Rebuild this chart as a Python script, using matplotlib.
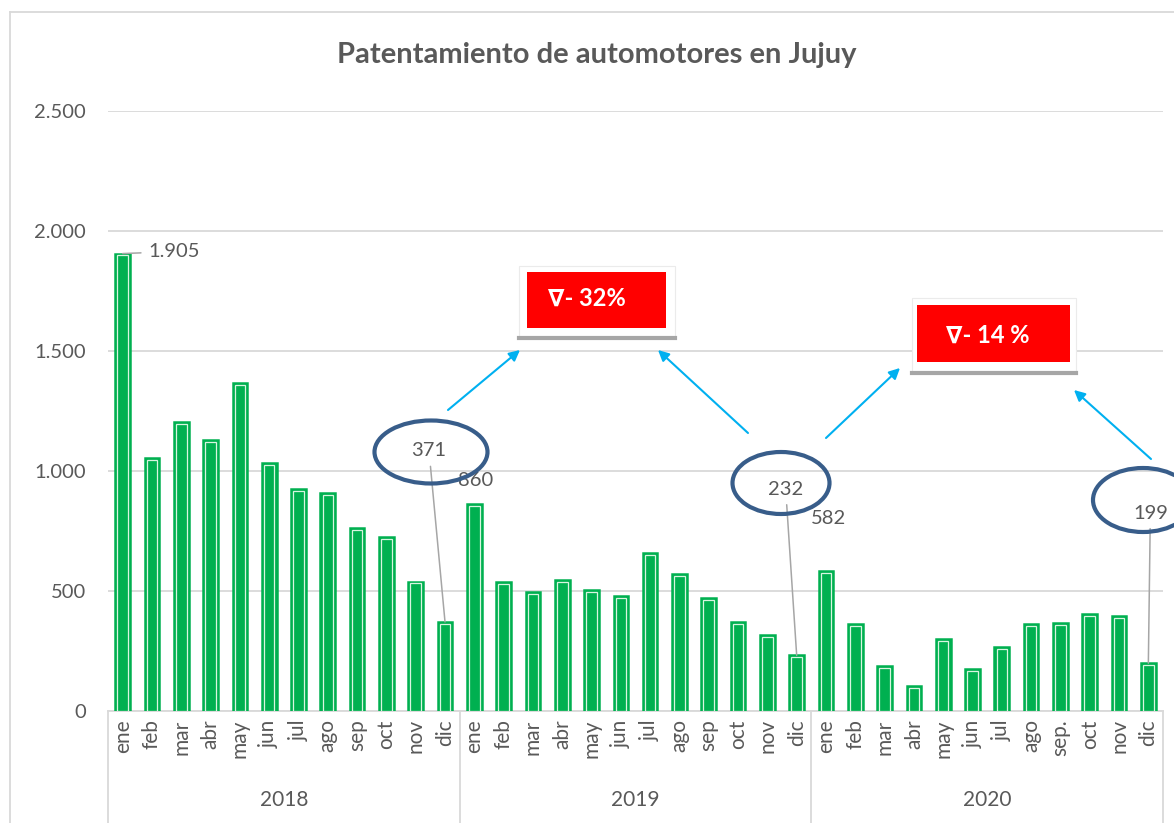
import matplotlib
matplotlib.use("Agg")
import matplotlib.pyplot as plt
from matplotlib.patches import Ellipse, Rectangle, FancyArrowPatch
from matplotlib.lines import Line2D
from matplotlib.transforms import Affine2D
from matplotlib.ticker import FuncFormatter

plt.rcParams["font.family"] = ["Lato", "DejaVu Sans"]

# data
years = ["2018", "2019", "2020"]
months = ["ene", "feb", "mar", "abr", "may", "jun", "jul", "ago", "sep", "oct", "nov", "dic"]
months_2020 = ["ene", "feb", "mar", "abr", "may", "jun", "jul", "ago", "sep.", "oct", "nov", "dic"]
v2018 = [1905, 1052, 1205, 1129, 1365, 1031, 923, 909, 761, 726, 539, 371]
v2019 = [860, 536, 497, 546, 504, 480, 656, 569, 469, 372, 316, 232]
v2020 = [582, 361, 189, 105, 298, 175, 268, 361, 365, 402, 397, 199]
labelled = [0, 11, 12, 23, 24, 35]
changes = ["\u2207- 32%", "\u2207- 14 %"]
title = "Patentamiento de automotores en Jujuy"

values = v2018 + v2019 + v2020
labels = months + months + months_2020
x = list(range(len(values)))

W, H = 1174, 823
GREEN = "#00B050"
TXT = "#595959"
GRID = "#D9D9D9"

fig = plt.figure(figsize=(W / 100, H / 100), dpi=100)
ax = fig.add_axes([108 / W, (H - 711) / H, (1163 - 108) / W, 600.3 / H])
# pixel coords of the reference image (y down)
px = Affine2D().scale(1 / W, -1 / H).translate(0, 1) + fig.transFigure


def fmt(v, _=None):
    return f"{int(v):,}".replace(",", ".")


# bars: green body, thin light inner outline
ax.bar(x, values, width=0.5, color=GREEN, edgecolor=GREEN, linewidth=1.8, zorder=3)
ax.bar(x, [v - 8 for v in values], width=0.36, color="none",
       edgecolor="#d8f5e0", linewidth=0.9, zorder=4)

ax.set_xlim(-0.5, len(values) - 0.5)
ax.set_ylim(0, 2500)
ax.set_yticks(range(0, 2501, 500))
ax.yaxis.set_major_formatter(FuncFormatter(fmt))
ax.yaxis.grid(True, color=GRID, linewidth=1.3, zorder=0)
ax.set_axisbelow(True)
for s in ["left", "right", "top"]:
    ax.spines[s].set_visible(False)
ax.spines["bottom"].set_color(GRID)
ax.spines["bottom"].set_linewidth(1.3)
ax.set_xticks(x)
ax.set_xticklabels(labels, rotation=90, va="top")
ax.tick_params(axis="x", length=0, pad=6, labelsize=15, colors=TXT)
ax.tick_params(axis="y", length=0, pad=16, labelsize=14.5, colors=TXT)

# year groups
for k in range(len(years) + 1):
    ax.plot([k * 12 - 0.5] * 2, [0, -0.2], transform=ax.get_xaxis_transform(),
            color=GRID, lw=1.3, clip_on=False)
for k, yr in enumerate(years):
    ax.text(k * 12 + 5.5, -0.148, yr, transform=ax.get_xaxis_transform(),
            ha="center", va="center", fontsize=15, color=TXT)

# data labels (offsets in pixels from bar top)
offsets = {0: (51, 2), 11: (-16, 171), 12: (1, 24), 23: (-11, 166), 24: (3, 53), 35: (2, 150)}
leaders = {0, 11, 23, 35}
for i in labelled:
    dx, dy = offsets[i]
    ap = None
    if i in leaders:
        ap = dict(arrowstyle="-", color="#A6A6A6", lw=1.1, shrinkA=3, shrinkB=0)
    ax.annotate(fmt(values[i]), xy=(i, values[i]), xytext=(dx, dy),
                textcoords="offset pixels", ha="center", va="center",
                fontsize=14.5, color=TXT, arrowprops=ap, zorder=5,
                annotation_clip=False)

# ellipses round the December values
for cx, cy, w, h in [(431, 452, 113, 63), (781, 483, 97, 62), (1143, 500, 100, 64)]:
    fig.add_artist(Ellipse((cx, cy), w, h, transform=px, fill=False,
                           edgecolor="#385D8A", linewidth=3))

# red change boxes
boxes = [((519, 266, 156, 71), (527, 272, 139, 56), (587, 298)),
         ((912, 298, 164, 74), (917, 305, 153, 57), (988, 335))]
for (bg, red, tpos), txt in zip(boxes, changes):
    fig.add_artist(Rectangle(bg[:2], bg[2], bg[3], transform=px,
                             facecolor="white", edgecolor="#EBEBEB", lw=0.8))
    fig.add_artist(Rectangle(red[:2], red[2], red[3], transform=px,
                             facecolor="#FF0000", edgecolor="none"))
    fig.add_artist(Line2D([bg[0], bg[0] + bg[2]], [bg[1] + bg[3] + 1] * 2,
                          transform=px, color="#A6A6A6", lw=3))
    fig.text(tpos[0] / W, 1 - tpos[1] / H, txt, ha="center", va="center",
             fontsize=17, fontweight="bold", color="white",
             family=["Lato", "DejaVu Sans"])

# blue arrows
for a, b in [((448, 410), (520, 350)), ((748, 433), (658, 350)),
             ((826, 438), (900, 368)), ((1151, 459), (1074, 390))]:
    fig.add_artist(FancyArrowPatch(a, b, transform=px, arrowstyle="-|>",
                                   mutation_scale=16, color="#00B0F0", lw=1.5,
                                   shrinkA=0, shrinkB=0))

# chart frame
fig.add_artist(Line2D([10, 10], [12, H], transform=px, color=GRID, lw=1.3))
fig.add_artist(Line2D([10, W], [12, 12], transform=px, color=GRID, lw=1.3))

fig.text(597 / W, 1 - 55 / H, title, ha="center", va="center",
         fontsize=21, fontweight="bold", color=TXT)

fig.savefig("out.png", dpi=100)
